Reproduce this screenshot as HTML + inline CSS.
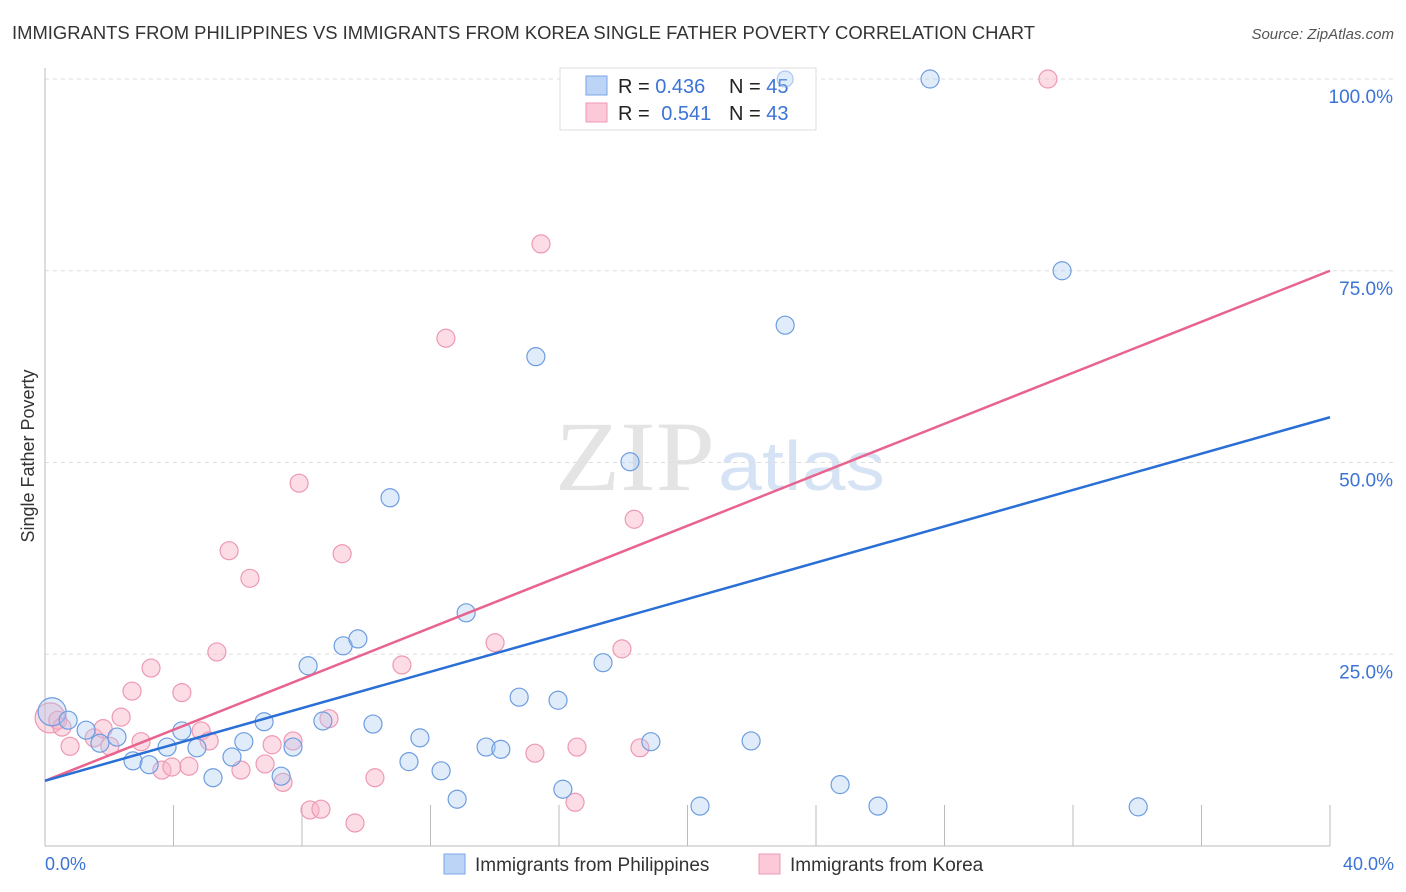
<!DOCTYPE html>
<html><head><meta charset="utf-8">
<style>
body{margin:0;background:#fff;font-family:"Liberation Sans",sans-serif;}
#wrap{position:relative;width:1406px;height:892px;overflow:hidden;}
</style></head>
<body>
<div id="wrap">
<svg id="svg" width="1406" height="892" xmlns="http://www.w3.org/2000/svg">
<text x="12" y="39" font-size="18" fill="#333" textLength="1023" lengthAdjust="spacingAndGlyphs">IMMIGRANTS FROM PHILIPPINES VS IMMIGRANTS FROM KOREA SINGLE FATHER POVERTY CORRELATION CHART</text>
<text x="1394" y="39" font-size="15" fill="#555" font-style="italic" text-anchor="end">Source: ZipAtlas.com</text>
<text x="34" y="456" font-size="18" fill="#333" text-anchor="middle" transform="rotate(-90 34 456)">Single Father Poverty</text>
<text x="555" y="490" font-size="100" fill="#e4e4e4" textLength="160" lengthAdjust="spacingAndGlyphs" font-family="Liberation Serif,serif">ZIP</text>
<text x="718" y="490" font-size="70" fill="#d6e3f5" textLength="167" lengthAdjust="spacingAndGlyphs">atlas</text>
<g id="grid"></g><g id="pts"></g><g id="lines"></g>
<g>
<rect x="560" y="68" width="256" height="62" fill="#fff" stroke="#ddd"/>
<rect x="586" y="76" width="21" height="19" fill="#bcd4f5" stroke="#7aa5e6"/>
<rect x="586" y="103" width="21" height="19" fill="#fbc9d8" stroke="#ee98b4"/>
<text x="618" y="93" font-size="20" fill="#222">R = <tspan fill="#3b73d6">0.436</tspan></text>
<text x="729" y="93" font-size="20" fill="#222">N = <tspan fill="#3b73d6">45</tspan></text>
<text x="618" y="120" font-size="20" fill="#222">R = <tspan fill="#3b73d6" dx="6">0.541</tspan></text>
<text x="729" y="120" font-size="20" fill="#222">N = <tspan fill="#3b73d6">43</tspan></text>
</g>
<g id="topG"></g>
<g>
<rect x="444" y="854" width="21" height="20" fill="#bcd4f5" stroke="#7aa5e6"/>
<text x="475" y="871" font-size="19" fill="#333">Immigrants from Philippines</text>
<rect x="759" y="854" width="21" height="20" fill="#fbc9d8" stroke="#ee98b4"/>
<text x="790" y="871" font-size="19" fill="#333">Immigrants from Korea</text>
</g>
<text x="45" y="870" font-size="18" fill="#3b73d6">0.0%</text>
<text x="1394" y="870" font-size="18" fill="#3b73d6" text-anchor="end">40.0%</text>
</svg>
</div>
<script>
const blueX=[0.22,0.72,1.28,1.71,2.24,2.74,3.24,3.80,4.26,4.73,5.23,5.82,6.19,6.82,7.35,7.72,8.19,8.65,9.28,9.74,10.21,10.74,11.33,11.67,12.33,12.83,13.11,13.73,14.19,14.76,15.28,15.97,16.12,17.37,18.21,18.86,20.39,21.98,23.04,24.75,25.93,27.55,31.66,34.03,23.04];
const blueY=[17.5,16.4,15.1,13.4,14.2,11.1,10.6,12.9,15.0,12.8,8.9,11.6,13.6,16.2,9.1,12.9,23.5,16.3,26.1,27.0,15.9,45.4,11.0,14.1,9.8,6.1,30.4,12.9,12.6,19.4,63.8,19.0,7.4,23.9,50.1,13.6,5.2,13.7,67.9,8.0,5.2,100,75.0,5.1,100];
const pinkX=[0.16,0.40,0.53,0.78,1.53,1.81,2.02,2.37,2.71,2.99,3.30,3.64,3.95,4.26,4.48,4.86,5.11,5.35,5.73,6.10,6.38,6.85,7.07,7.41,7.72,7.91,8.25,8.59,8.84,9.25,9.65,10.27,11.11,12.48,14.01,15.25,15.44,16.50,16.56,17.96,18.34,18.52,31.22];
const pinkY=[16.7,16.4,15.5,13.0,14.1,15.3,13.0,16.8,20.2,13.6,23.2,9.9,10.3,20.0,10.4,15.0,13.7,25.3,38.5,9.9,34.9,10.7,13.2,8.3,13.7,47.3,4.7,4.8,16.6,38.1,3.0,8.9,23.6,66.2,26.5,12.1,78.5,5.7,12.9,25.7,42.6,12.8,100];
const yTicks=[25,50,75,100];
const xTicks=[4,8,12,16,20,24,28,32,36,40];
const blueLine=[8.5,55.9];
const pinkLine=[8.5,75.0];
const NS="http://www.w3.org/2000/svg";
const sx=v=>45+v/40*1285, sy=v=>846-v/100*767;
function mk(t,a,p){const e=document.createElementNS(NS,t);for(const k in a)e.setAttribute(k,a[k]);p.appendChild(e);return e;}
const grid=document.getElementById('grid');
yTicks.forEach(t=>{
 const l=mk('line',{x1:45,x2:1394,y1:sy(t),y2:sy(t),stroke:'#ddd','stroke-dasharray':'4,4'},grid);
 
 
 const tx=mk('text',{x:1393,y:sy(t)+24,'font-size':19,fill:'#3b73d6','text-anchor':'end'},grid);
 tx.textContent=t.toFixed(1)+'%';
 
 
});
const ax=mk('line',{x1:45,x2:45,y1:68,y2:846,stroke:'#bbb'},grid);


const bx=mk('line',{x1:45,x2:1330,y1:846,y2:846,stroke:'#bbb'},grid);


xTicks.forEach(t=>{
 const l=mk('line',{x1:sx(t),x2:sx(t),y1:805,y2:846,stroke:'#bbb'},grid);
 
 
});
const pts=document.getElementById('pts');
const topG=document.getElementById('topG');
pinkX.forEach((x,i)=>{
 const c=mk('circle',{cx:sx(x),cy:sy(pinkY[i]),r:i==0?15:9,fill:'rgba(248,180,200,0.45)',stroke:'#ee98b4','stroke-width':1.2},pts);
 
 
});
blueX.forEach((x,i)=>{
 const c=mk('circle',{cx:sx(x),cy:sy(blueY[i]),r:i==0?14:(i==44?8:9),fill:'rgba(170,200,240,0.35)',stroke:'rgba(110,157,224,'+(i==44?'0.5':'1')+')','stroke-width':1.2},i==44?topG:pts);
 
 
});
const lines=document.getElementById('lines');
const pl=mk('line',{x1:sx(0),y1:sy(pinkLine[0]),x2:sx(40),y2:sy(pinkLine[1]),stroke:'#e8648f','stroke-width':2.5},lines);


const bl=mk('line',{x1:sx(0),y1:sy(blueLine[0]),x2:sx(40),y2:sy(blueLine[1]),stroke:'#2a6fd6','stroke-width':2.5},lines);


</script>
</body></html>
